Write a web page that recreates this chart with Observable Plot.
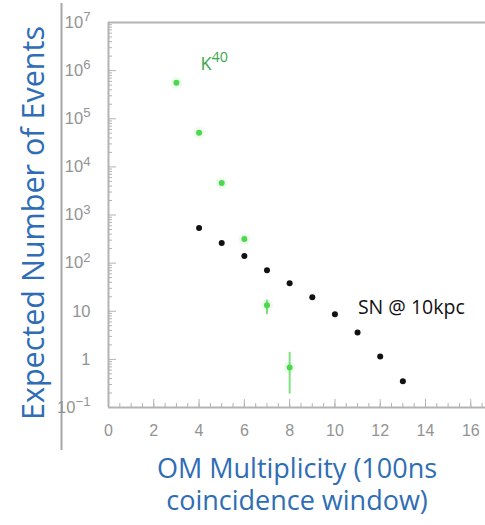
<!DOCTYPE html>
<html><head><meta charset="utf-8">
<script src="https://cdn.jsdelivr.net/npm/d3@7"></script>
<script src="https://cdn.jsdelivr.net/npm/@observablehq/plot@0.6"></script>
<style>body{margin:0;background:#fff} #chart{width:485px;height:525px}</style>
</head><body><div id="chart"></div>
<script>
// K40 background (green)
const k40Mult = [3, 4, 5, 6, 7, 8];
const k40Events = [5.6e5, 5.1e4, 4.6e3, 316, 13.3, 0.68];
// K40 error bars
const errMult = [7, 8];
const errLo = [8.5, 0.19];
const errHi = [17, 1.4];
// Supernova at 10 kpc (black)
const snMult = [4, 5, 6, 7, 8, 9, 10, 11, 12, 13];
const snEvents = [540, 263, 140, 71, 38, 19.6, 8.7, 3.6, 1.15, 0.35];
// axes
const yTicks = [0.1, 1, 10, 100, 1e3, 1e4, 1e5, 1e6, 1e7];
const yTickLabels = ["10^\u22121", "1", "10", "10^2", "10^3", "10^4", "10^5", "10^6", "10^7"];
const xTicks = [0, 2, 4, 6, 8, 10, 12, 14, 16];
const yMinor = [];
for (let d = -1; d < 7; d++) for (let k = 2; k <= 9; k++) yMinor.push(k * Math.pow(10, d));
const xMinor = d3.range(0, 16.6, 0.5);

const W = 485, H = 525, mt = 22, mb = 118, ml = 108, mr = 0;
const innerW = W - ml - mr, innerH = H - mt - mb;
const axisGray = "#b3b3b3", labelGray = "#939393", blue = "#2f6db5";
const labelOf = new Map(yTicks.map((t, i) => [t, yTickLabels[i]]));

const k40 = k40Mult.map((x, i) => ({x, y: k40Events[i]}));
const sn = snMult.map((x, i) => ({x, y: snEvents[i]}));
const err = errMult.map((x, i) => ({x, lo: errLo[i], hi: errHi[i]}));

const svg = Plot.plot({
  width: W, height: H,
  marginTop: mt, marginBottom: mb, marginLeft: ml, marginRight: mr,
  style: {fontFamily: "Liberation Sans, sans-serif", background: "#fff"},
  x: {domain: [0, 16.65]},
  y: {type: "log", domain: [0.1, 1e7]},
  marks: [
    // outer picture border line
    Plot.ruleX([0], {dx: -47, insetTop: -19, insetBottom: -43, stroke: "#a8a8a8", strokeWidth: 2}),
    // frame
    Plot.ruleY([1e7], {stroke: axisGray, strokeWidth: 2}),
    Plot.ruleY([0.1], {stroke: axisGray, strokeWidth: 2}),
    Plot.ruleX([0], {stroke: axisGray, strokeWidth: 2}),
    // ticks
    Plot.tickY(yMinor, {insetRight: innerW - 4, stroke: axisGray}),
    Plot.tickY(yTicks, {insetRight: innerW - 8, stroke: axisGray}),
    Plot.tickX(xMinor, {insetTop: innerH - 4, stroke: axisGray}),
    Plot.tickX(xTicks, {insetTop: innerH - 8, stroke: axisGray}),
    Plot.axisY(yTicks, {anchor: "left", tickSize: 0, tickPadding: 18, label: null,
      tickFormat: d => labelOf.get(d), fontSize: 16.5, color: labelGray}),
    Plot.axisX(xTicks, {anchor: "bottom", tickSize: 0, tickPadding: 17, label: null,
      fontSize: 16, color: labelGray}),
    // data
    Plot.ruleX(err, {x: "x", y1: "lo", y2: "hi", stroke: "#7fe07f", strokeWidth: 2}),
    Plot.dot(k40, {x: "x", y: "y", r: 6, fill: "#5ddc5d", fillOpacity: 0.1}),
    Plot.dot(k40, {x: "x", y: "y", r: 3, fill: "#4cd84c"}),
    Plot.dot(sn, {x: "x", y: "y", r: 3, fill: "#111"}),
    // annotations
    Plot.text([k40[0]], {x: "x", y: "y", text: () => "K^40", textAnchor: "start", dx: 24, dy: -19,
      fontSize: 18, fill: "#3aa84a", fontFamily: "Open Sans"}),
    Plot.text([sn[6]], {x: "x", y: "y", text: () => "SN @ 10kpc", textAnchor: "start", dx: 23, dy: -6,
      fontSize: 19.5, fill: "#111", fontFamily: "Open Sans"}),
    // titles
    Plot.text(["Expected Number of Events"], {frameAnchor: "left", rotate: -90, dx: -74, dy: 8,
      textAnchor: "middle", lineAnchor: "middle",
      fontSize: 30.5, fill: blue, fontFamily: "Open Sans"}),
    Plot.text(["OM Multiplicity (100ns\ncoincidence window)"], {frameAnchor: "bottom", dy: 76,
      textAnchor: "middle", lineAnchor: "middle", lineHeight: 1.18, fontSize: 27, fill: blue, fontFamily: "Open Sans"})
  ]
});

d3.select(svg).selectAll("text").each(function () {
  const t = this.textContent;
  if (this.childElementCount === 0 && t.includes("^")) {
    const [b, e] = t.split("^");
    const sel = d3.select(this);
    sel.text(null);
    sel.append("tspan").text(b);
    sel.append("tspan").attr("dy", "-0.5em").attr("font-size", "0.8em").text(e);
  }
});

document.getElementById("chart").appendChild(svg);
</script></body></html>
